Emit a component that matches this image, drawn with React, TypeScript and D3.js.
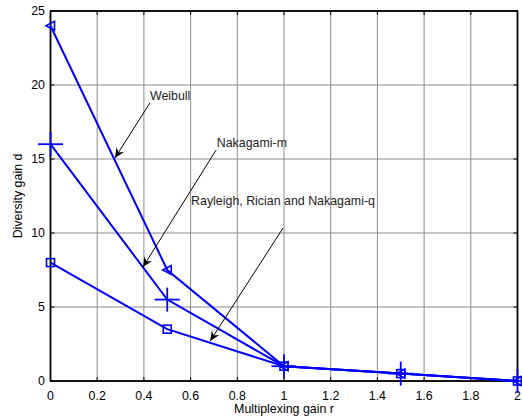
import React from "react";
import * as d3 from "d3";

const rValues = [0, 0.5, 1, 1.5, 2];
const weibull = [24, 7.5, 1, 0.5, 0];
const nakagamiM = [16, 5.5, 1, 0.5, 0];
const rayleigh = [8, 3.5, 1, 0.5, 0];
const xTicks = [0, 0.2, 0.4, 0.6, 0.8, 1, 1.2, 1.4, 1.6, 1.8, 2];
const yTicks = [0, 5, 10, 15, 20, 25];

const annotations = [
  { label: "Weibull", text: [0.426, 19.0], from: [0.426, 18.8], to: [0.276, 15.07] },
  { label: "Nakagami-m", text: [0.712, 15.8], from: [0.709, 15.6], to: [0.396, 7.7] },
  { label: "Rayleigh, Rician and Nakagami-q", text: [0.602, 11.88], from: [0.996, 10.34], to: [0.684, 2.7] },
];

const W = 522;
const H = 419;
const left = 50.5;
const right = 517.5;
const top = 11;
const bottom = 381;

export default function App() {
  const x = d3.scaleLinear().domain([0, 2]).range([left, right]);
  const y = d3.scaleLinear().domain([0, 25]).range([bottom, top]);
  const line = d3
    .line<number>()
    .x((_, i) => x(rValues[i]))
    .y((d) => y(d));
  const font = "'Liberation Sans', Arial, sans-serif";
  const fs = 12.4;
  const blue = "#0000ff";

  const arrowHead = (fx: number, fy: number, tx: number, ty: number) => {
    const ang = Math.atan2(ty - fy, tx - fx);
    const L = 10;
    const Wd = 4.5;
    const back = 6.5;
    const cos = Math.cos(ang);
    const sin = Math.sin(ang);
    const pt = (a: number, b: number) => [tx + a * cos - b * sin, ty + a * sin + b * cos];
    const p1 = pt(-L, Wd);
    const p2 = pt(-back, 0);
    const p3 = pt(-L, -Wd);
    return `M${tx},${ty}L${p1[0]},${p1[1]}L${p2[0]},${p2[1]}L${p3[0]},${p3[1]}Z`;
  };

  return (
    <svg width={W} height={H} style={{ position: "absolute", left: 0, top: 0, background: "#fff" }}>
      <rect x={0} y={0} width={W} height={H} fill="#fff" />
      {xTicks.map((t) => (
        <line key={"gx" + t} x1={x(t)} x2={x(t)} y1={top} y2={bottom} stroke="#8c8c8c" strokeWidth={1} />
      ))}
      {yTicks.map((t) => (
        <line key={"gy" + t} x1={left} x2={right} y1={y(t)} y2={y(t)} stroke="#8c8c8c" strokeWidth={1} />
      ))}
      {xTicks.map((t) => (
        <g key={"tx" + t}>
          <line x1={x(t)} x2={x(t)} y1={bottom} y2={bottom - 4} stroke="#000" />
          <line x1={x(t)} x2={x(t)} y1={top} y2={top + 4} stroke="#000" />
          <text x={x(t)} y={400} textAnchor="middle" fontFamily={font} fontSize={fs} fill="#000">
            {String(t)}
          </text>
        </g>
      ))}
      {yTicks.map((t) => (
        <g key={"ty" + t}>
          <line x1={left} x2={left + 4} y1={y(t)} y2={y(t)} stroke="#000" />
          <line x1={right} x2={right - 4} y1={y(t)} y2={y(t)} stroke="#000" />
          <text x={45} y={y(t) + 4} textAnchor="end" fontFamily={font} fontSize={fs} fill="#000">
            {String(t)}
          </text>
        </g>
      ))}
      <rect x={left} y={top} width={right - left} height={bottom - top} fill="none" stroke="#000" strokeWidth={1.8} />
      {[weibull, nakagamiM, rayleigh].map((s, k) => (
        <path key={"l" + k} d={line(s) || ""} fill="none" stroke={blue} strokeWidth={2} />
      ))}
      {weibull.map((v, i) => {
        const cx = x(rValues[i]);
        const cy = y(v);
        return (
          <path
            key={"tri" + i}
            d={`M${cx - 4.5},${cy}L${cx + 4},${cy - 4.5}L${cx + 4},${cy + 4.5}Z`}
            fill="none"
            stroke={blue}
            strokeWidth={1.6}
          />
        );
      })}
      {nakagamiM.map((v, i) => {
        const cx = x(rValues[i]);
        const cy = y(v);
        return (
          <g key={"plus" + i} stroke={blue} strokeWidth={1.8}>
            <line x1={cx - 12.5} x2={cx + 12.5} y1={cy} y2={cy} />
            <line x1={cx} x2={cx} y1={cy - 12} y2={cy + 12} />
          </g>
        );
      })}
      {rayleigh.map((v, i) => {
        const cx = x(rValues[i]);
        const cy = y(v);
        return <rect key={"sq" + i} x={cx - 4} y={cy - 4} width={8} height={8} fill="none" stroke={blue} strokeWidth={1.6} />;
      })}
      {annotations.map((a) => {
        const fx = x(a.from[0]);
        const fy = y(a.from[1]);
        const tx = x(a.to[0]);
        const ty = y(a.to[1]);
        return (
          <g key={a.label}>
            <line x1={fx} y1={fy} x2={tx} y2={ty} stroke="#000" strokeWidth={1} />
            <path d={arrowHead(fx, fy, tx, ty)} fill="#000" />
            <text x={x(a.text[0])} y={y(a.text[1])} fontFamily={font} fontSize={fs} fill="#222">
              {a.label}
            </text>
          </g>
        );
      })}
      <text x={(left + right) / 2} y={413} textAnchor="middle" fontFamily={font} fontSize={fs} fill="#000">
        Multiplexing gain r
      </text>
      <text
        transform={`translate(22,${(top + bottom) / 2}) rotate(-90)`}
        textAnchor="middle"
        fontFamily={font}
        fontSize={fs}
        fill="#000"
      >
        Diversity gain d
      </text>
    </svg>
  );
}
